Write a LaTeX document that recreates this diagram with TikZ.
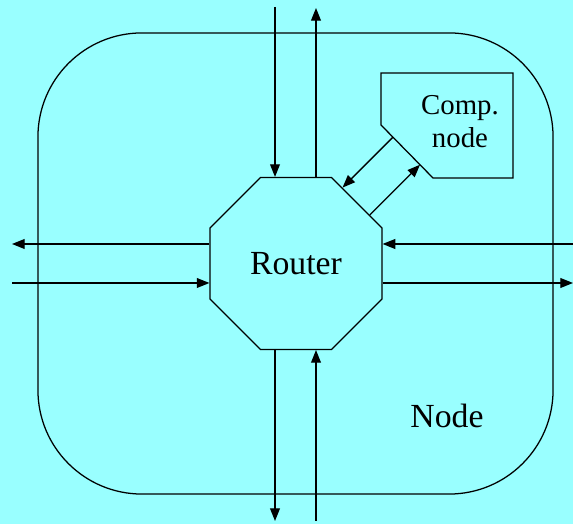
\documentclass[tikz,border=0pt]{standalone}
\usepackage{fontspec}
\setmainfont{Liberation Serif}
\usetikzlibrary{shapes.geometric,arrows.meta,positioning,calc}
\definecolor{nodebg}{RGB}{153,255,255}

\begin{document}
\begin{tikzpicture}[
    x=0.025cm, y=0.025cm,
    line width=0.9pt,
    frame/.style={draw, rounded corners=2.6cm, minimum width=12.875cm, minimum height=11.525cm, inner sep=0pt},
    router/.style={draw, regular polygon, regular polygon sides=8, minimum size=4.65cm, inner sep=0pt, font=\fontsize{24}{28}\selectfont},
    nodetext/.style={font=\fontsize{24}{28}\selectfont},
    comptext/.style={align=center, font=\fontsize{20.5}{23.5}\selectfont},
    arrow/.style={-{Triangle[length=9pt,width=7pt]}}
]
    \path[use as bounding box, fill=nodebg] (0,0) rectangle (573,524);

    \node[frame] (frame) at (295.5,260.5) {};
    \node[nodetext] (nodename) at (447,108) {Node};
    \node[router] (router) at (296,260.5) {Router};

    % Compute node (corner cut towards the router)
    \coordinate (p1) at (381,451);
    \coordinate (p2) at (513,451);
    \coordinate (p3) at (513,346);
    \coordinate (p4) at (433,346);
    \coordinate (p5) at (381,399);
    \draw (p1) -- (p2) -- (p3) -- (p4) -- (p5) -- cycle;
    \node[comptext] (comp) at (460,402) {Comp.\\node};

    % Free ends at the picture border
    \coordinate (nin) at (275,517);
    \coordinate (nout) at (316,516);
    \coordinate (sout) at (275,3);
    \coordinate (sin) at (316,3);
    \coordinate (wout) at (12,280);
    \coordinate (win) at (12,241);
    \coordinate (ein) at (573,280);
    \coordinate (eout) at (573,241);

    % Links in and out of the node
    \draw[arrow] (nin) -- (nin |- router.north);
    \draw[arrow] (nout |- router.north) -- (nout);
    \draw[arrow] (sout |- router.south) -- (sout);
    \draw[arrow] (sin) -- (sin |- router.south);
    \draw[arrow] (router.west |- wout) -- (wout);
    \draw[arrow] (win) -- (win -| router.west);
    \draw[arrow] (ein) -- (ein -| router.east);
    \draw[arrow] (router.east |- eout) -- (eout);

    % Router <-> compute node
    \coordinate (c1) at ($(p5)!0.23!(p4)$);
    \coordinate (c2) at ($(p5)!0.75!(p4)$);
    \coordinate (ne) at (router.45);
    \coordinate (ne2) at ($(ne)+(-10,10)$);
    \draw[arrow] (c1) -- ($(ne)!(c1)!(ne2)$);
    \draw[arrow] ($(ne)!(c2)!(ne2)$) -- (c2);

\end{tikzpicture}
\end{document}
